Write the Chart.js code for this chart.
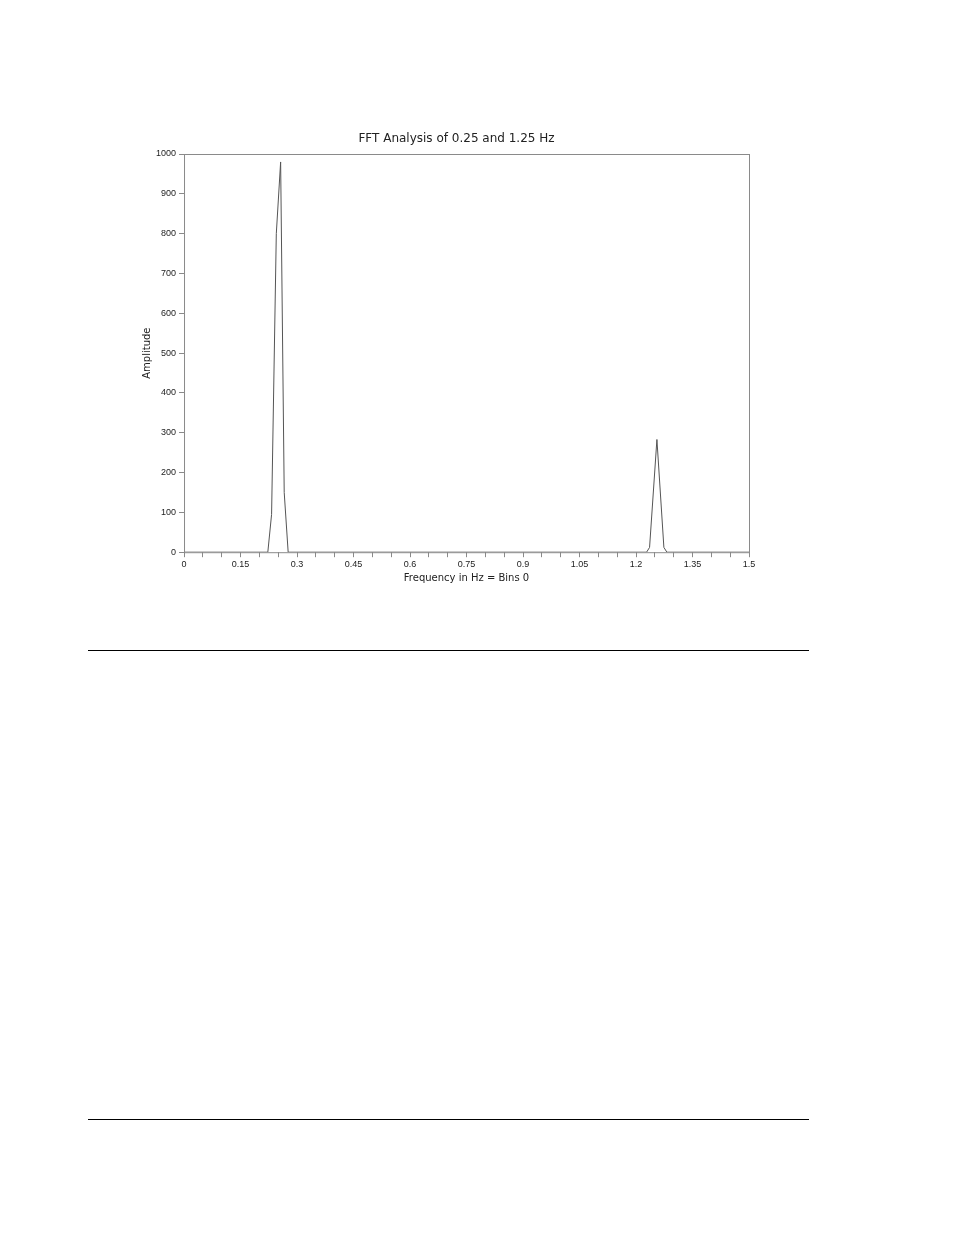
<!DOCTYPE html>
<html>
<head>
<meta charset="utf-8">
<script src="https://cdn.jsdelivr.net/npm/chart.js@4.4.1/dist/chart.umd.min.js"></script>
<style>
  body { margin: 0; background: #fff; }
  #wrap { position: absolute; left: 0; top: 0; width: 954px; height: 640px; }
  .rule { position: absolute; left: 88px; width: 721px; height: 0; border-top: 1px solid #000; }
</style>
</head>
<body>
<div id="wrap"><canvas id="grafico-fft" width="954" height="640"></canvas></div>
<div class="rule" style="top:650px"></div>
<div class="rule" style="top:1119px"></div>
<script>
// dados
const frequencias = [0, 0.2225, 0.2325, 0.245, 0.2565, 0.266, 0.2765, 1.228, 1.236, 1.2555, 1.274, 1.282, 1.5];
const amplitudes  = [0, 0, 95, 800, 980, 150, 0, 0, 12, 283, 12, 0, 0];
const xTickLabels = ['0', '0.15', '0.3', '0.45', '0.6', '0.75', '0.9', '1.05', '1.2', '1.35', '1.5'];
const yTickLabels = ['0', '100', '200', '300', '400', '500', '600', '700', '800', '900', '1000'];
const titulo = 'FFT Analysis of 0.25 and 1.25 Hz';

const pontos = frequencias.map((f, i) => ({ x: f, y: amplitudes[i] }));

/**
 * Moldura em volta da area do grafico + titulo
 */
const moldura = {
    id: 'moldura',
    afterDraw(chart) {
        const a = chart.chartArea;
        const ctx = chart.ctx;
        ctx.save();
        ctx.strokeStyle = '#8a8a8a';
        ctx.lineWidth = 1;
        ctx.strokeRect(a.left + 0.5, a.top + 0.5, a.right - a.left, a.bottom - a.top);

        // titulo um pouco a esquerda do centro, como no original
        ctx.fillStyle = '#222';
        ctx.font = '12px "DejaVu Sans"';
        ctx.textAlign = 'center';
        ctx.textBaseline = 'middle';
        ctx.fillText(titulo, (a.left + a.right) / 2 - 10, a.top - 15);
        ctx.restore();
    }
};

const fonte = { family: 'Liberation Sans', size: 9 };

var graficoFft = new Chart(document.getElementById('grafico-fft'), {
    type: 'line',
    data: {
        datasets: [{
            data: pontos,
            borderColor: '#555',
            borderWidth: 1,
            pointRadius: 0,
            tension: 0,
            fill: false
        }]
    },
    plugins: [moldura],
    options: {
        responsive: false,
        animation: false,
        layout: { padding: { left: 141, right: 205, top: 154, bottom: 56 } },
        plugins: {
            legend: { display: false },
            tooltip: { enabled: false },
            title: { display: false }
        },
        scales: {
            x: {
                type: 'linear',
                min: 0,
                max: 1.5,
                border: { display: false },
                grid: { drawOnChartArea: false, drawTicks: true, tickLength: 5, color: '#8a8a8a' },
                ticks: {
                    stepSize: 0.05,
                    autoSkip: false,
                    maxRotation: 0,
                    color: '#222',
                    font: fonte,
                    padding: 2,
                    callback: function (value, index) {
                        return index % 3 === 0 ? xTickLabels[index / 3] : '';
                    }
                },
                title: {
                    display: true,
                    text: 'Frequency in Hz = Bins 0',
                    color: '#222',
                    font: { family: 'DejaVu Sans', size: 10 },
                    padding: { top: 0, bottom: 0 }
                }
            },
            y: {
                min: 0,
                max: 1000,
                border: { display: false },
                grid: { drawOnChartArea: false, drawTicks: true, tickLength: 5, color: '#8a8a8a' },
                ticks: {
                    stepSize: 100,
                    color: '#222',
                    font: fonte,
                    padding: 3,
                    callback: function (value, index) {
                        return yTickLabels[index];
                    }
                },
                title: {
                    display: true,
                    text: 'Amplitude',
                    color: '#222',
                    font: { family: 'DejaVu Sans', size: 10 },
                    padding: { top: 0, bottom: 0 }
                }
            }
        }
    }
});
</script>
</body>
</html>
